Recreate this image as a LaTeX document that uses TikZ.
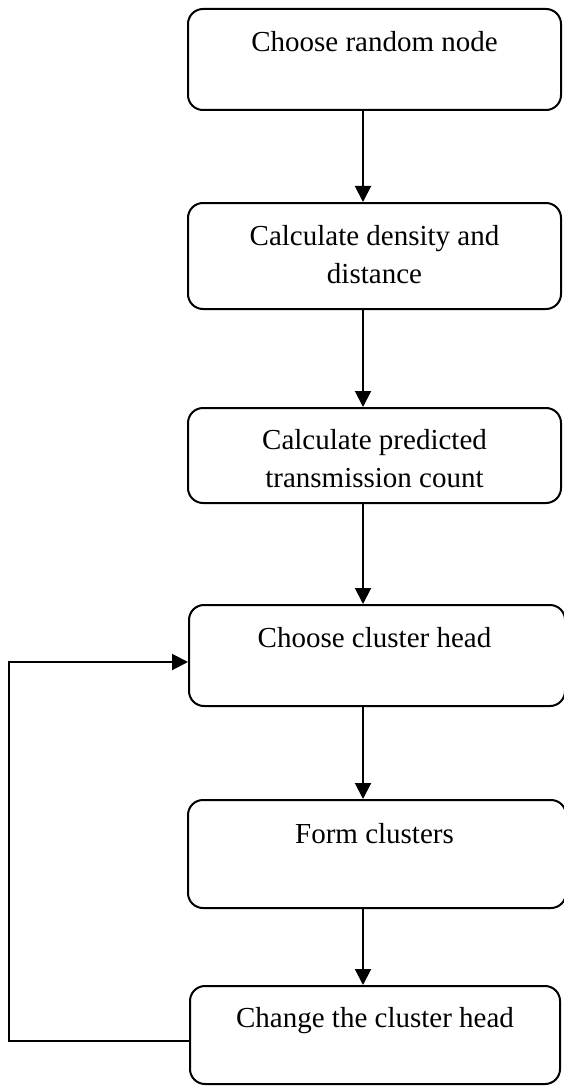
\documentclass[tikz,border=0pt]{standalone}
\usepackage{fontspec}
\setmainfont{Liberation Serif}
\usetikzlibrary{arrows.meta}
\begin{document}
\begin{tikzpicture}[x=1pt,y=-1pt,
  box/.style={draw, line width=2pt, rounded corners=15pt, inner sep=0pt},
  txt/.style={font=\fontsize{29}{38}\selectfont, inner sep=0pt, anchor=base, align=center},
  arr/.style={line width=2pt, -{Triangle[width=16pt,length=16pt]}},
  lin/.style={line width=2pt}]
\useasboundingbox (0,0) rectangle (564,1086);
% boxes
\node[box, minimum width=373pt, minimum height=101pt] (b1) at (374.5,59.5) {};
\node[box, minimum width=373pt, minimum height=106pt] (b2) at (374.5,256) {};
\node[box, minimum width=373pt, minimum height=95pt]  (b3) at (374.5,455.5) {};
\node[box, minimum width=376pt, minimum height=101pt] (b4) at (377,655.5) {};
\node[box, minimum width=378pt, minimum height=108pt] (b5) at (377,854) {};
\node[box, minimum width=370pt, minimum height=98pt]  (b6) at (375,1035) {};
% texts
\node[txt] (t1) at (374.5,52) {Choose random node};
\node[txt] (t2) at (374.5,283) {Calculate density and\\distance};
\node[txt] (t3) at (374.5,487) {Calculate predicted\\transmission count};
\node[txt] (t4) at (374.5,647) {Choose cluster head};
\node[txt] (t5) at (374.5,843) {Form clusters};
\node[txt] (t6) at (375,1027) {Change the cluster head};
% connectors
\coordinate (ax) at (363,0);
\draw[arr] (b1.south -| ax) -- (b2.north -| ax);
\draw[arr] (b2.south -| ax) -- (b3.north -| ax);
\draw[arr] (b3.south -| ax) -- (b4.north -| ax);
\draw[arr] (b4.south -| ax) -- (b5.north -| ax);
\draw[arr] (b5.south -| ax) -- (b6.north -| ax);
\coordinate (fb1) at (8.5,1041);
\coordinate (fb2) at (8.5,662);
\draw[arr] (b6.west |- fb1) -- (fb1) -- (fb2) -- (b4.west |- fb2);
\end{tikzpicture}
\end{document}
